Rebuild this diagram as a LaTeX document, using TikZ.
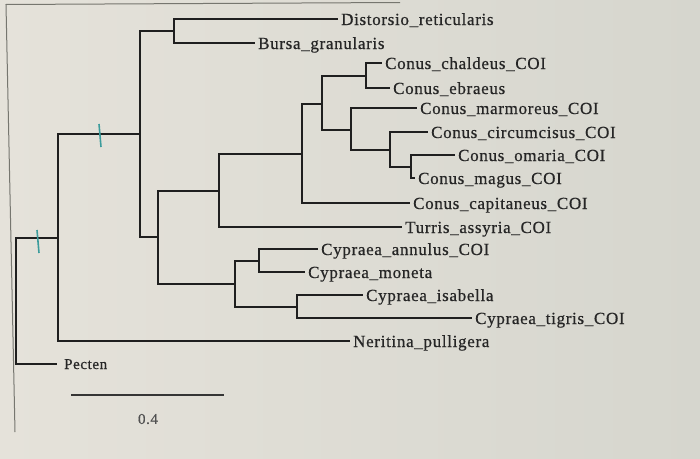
\documentclass[tikz,border=0pt]{standalone}
\usepackage{fontspec}
\setmainfont{Liberation Serif}[LetterSpace=4,FakeBold=0.6]
\definecolor{paper}{HTML}{E5E2DA}
\definecolor{paperR}{HTML}{D6D6CE}
\definecolor{ink}{HTML}{1F1F1F}
\definecolor{label}{HTML}{262626}
\definecolor{teal}{HTML}{3C9C9C}
\definecolor{frame}{HTML}{76766F}

\begin{document}
\begin{tikzpicture}[x=1pt,y=-1pt,
  branch/.style={ink,line width=2.7pt},
  taxon/.style={anchor=base west,inner sep=0pt,xshift=3pt,yshift=-6pt,text=label,
    font=\fontsize{17}{20}\selectfont},
  support/.style={teal,line width=1.6pt}]
  % screen background and window edge
  \shade[left color=paper,right color=paperR] (0,0) rectangle (700,458);
  \useasboundingbox (0,0) rectangle (700,458);
  \draw[frame,line width=1pt] (400,2.5) -- (6,4.5) -- (15,432);

  % internal nodes
  \coordinate (root) at (16,301);
  \foreach \n/\x/\y in {n1/58/238, n2/140/134, n3/174/31, n4/158/237, n5/219/191,
      n6/235/284, n7/302/154, n8/322/104, n9/366/76, n10/351/130, n11/390/150,
      n12/411/167, n13/259/261, n14/297/307}
    \coordinate (\n) at (\x,\y);

  % leaves
  \foreach \n/\x/\y/\t in {dist/338/19/Distorsio\_reticularis, burs/255/43/Bursa\_granularis,
      chal/382/63/Conus\_chaldeus\_COI, ebra/390/88/Conus\_ebraeus,
      marm/417/108/Conus\_marmoreus\_COI, circ/428/132/Conus\_circumcisus\_COI,
      omar/455/155/Conus\_omaria\_COI, magu/415/178/Conus\_magus\_COI,
      capi/410/203/Conus\_capitaneus\_COI, turr/402/227/Turris\_assyria\_COI,
      annu/318/249/Cypraea\_annulus\_COI, mone/305/272/Cypraea\_moneta,
      isab/363/295/Cypraea\_isabella, tigr/472/318/Cypraea\_tigris\_COI,
      neri/350/341/Neritina\_pulligera}{
    \coordinate (t-\n) at (\x,\y);
    \node[taxon] (l-\n) at (t-\n) {\t};
  }
  \coordinate (t-pect) at (57,364);
  \node[taxon,xshift=4pt,yshift=1pt,font=\fontsize{15}{18}\selectfont] (l-pect) at (t-pect) {Pecten};

  % branches
  \foreach \p/\c in {root/n1, root/t-pect, n1/n2, n1/t-neri, n2/n3, n2/n4, n3/t-dist,
      n3/t-burs, n4/n5, n4/n6, n5/n7, n5/t-turr, n7/n8, n7/t-capi, n8/n9, n8/n10,
      n9/t-chal, n9/t-ebra, n10/t-marm, n10/n11, n11/t-circ, n11/n12, n12/t-omar,
      n12/t-magu, n6/n13, n6/n14, n13/t-annu, n13/t-mone, n14/t-isab, n14/t-tigr}
    \draw[branch] (\p) |- (\c);

  % support marks
  \draw[support] (99,124) -- (101,147);
  \draw[support] (37,230) -- (39,253);

  % scale bar
  \coordinate (sb0) at (71,395);
  \coordinate (sb1) at (224,395);
  \draw[ink!90,line width=2.2pt] (sb0) -- (sb1);
  \node[text=label!80,font=\fontsize{15}{18}\selectfont] (sblab) at (148,419) {0.4};
\end{tikzpicture}
\end{document}
